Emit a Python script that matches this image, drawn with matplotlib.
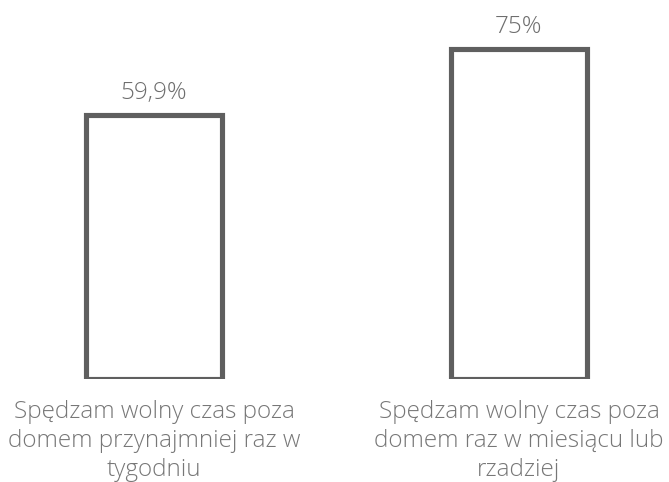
import matplotlib.pyplot as plt

#--- Données ---
categories = ["Spędzam wolny czas poza\ndomem przynajmniej raz w\ntygodniu",
              "Spędzam wolny czas poza\ndomem raz w miesiącu lub\nrzadziej"]
values = [59.9, 75]
value_labels = ["59,9%", "75%"]

plt.rcParams['font.family'] = ['Open Sans', 'DejaVu Sans']

fig = plt.figure(figsize=(6.69, 4.82), dpi=100)
# axes placed so that baseline sits at ~379 px and scale is ~4.4 px per unit
ax = fig.add_axes([0, 103/482, 1, 352/482])
ax.set_xlim(-154/365, 515/365)
ax.set_ylim(0, 80)

x = range(len(values))
ax.bar(x, values, width=0.375, facecolor='white', edgecolor='#5f5f5f', linewidth=3.7)

for i, v in enumerate(values):
    ax.annotate(value_labels[i], (i, v), xytext=(0, 16), textcoords='offset points',
                ha='center', va='center', fontsize=17.5, fontweight='light', color='#6e6e6e')
    ax.annotate(categories[i], (i, 0), xytext=(0, -15), textcoords='offset points',
                ha='center', va='top', fontsize=17.5, fontweight='light', color='#777777',
                linespacing=1.28, annotation_clip=False)

ax.axis('off')
fig.savefig('out.png', dpi=100)
